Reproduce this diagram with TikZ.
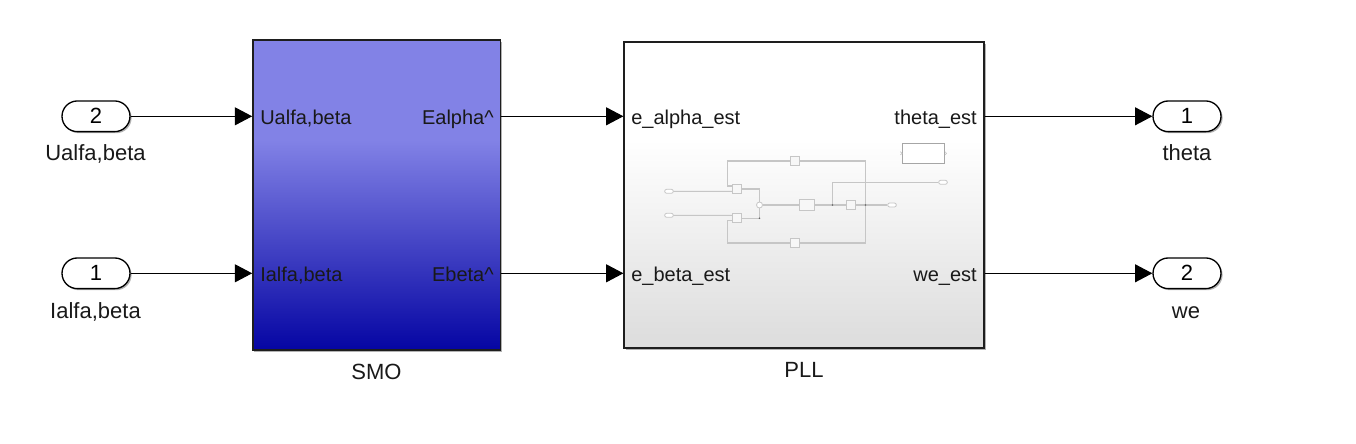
\documentclass[tikz,border=0pt]{standalone}
\usepackage{fontspec}
\setmainfont{Liberation Sans}
\usetikzlibrary{arrows.meta,shadows,shapes.misc}
\definecolor{plledge}{HTML}{1E1E1E}
\definecolor{mini}{HTML}{C6C6C6}
\definecolor{smotop}{HTML}{8282E6}
\definecolor{smobot}{HTML}{0505A3}
\definecolor{plltop}{HTML}{FFFFFF}
\definecolor{pllbot}{HTML}{DCDCDC}
\pgfdeclareverticalshading{smograd}{100bp}{
 color(0bp)=(smobot);
 color(25bp)=(smobot);
 color(58.9bp)=(smotop);
 color(75bp)=(smotop);
 color(100bp)=(smotop)}
\pgfdeclareverticalshading{pllgrad}{100bp}{
 color(0bp)=(pllbot);
 color(25bp)=(pllbot);
 color(59bp)=(plltop);
 color(75bp)=(plltop);
 color(100bp)=(plltop)}
\tikzset{
 x=0.75pt,y=-0.75pt,
 softshadow/.style={drop shadow={shadow xshift=1.2pt,shadow yshift=-1.2pt,fill=black,opacity=.3}},
 portnode/.style={draw=black,line width=1pt,fill=white,rounded rectangle,minimum width=51pt,minimum height=23pt,inner sep=0pt,font=\fontsize{16.5pt}{18pt}\selectfont,softshadow},
 biglabel/.style={inner sep=0pt,anchor=base,font=\fontsize{16.5pt}{18pt}\selectfont,text=black!90},
 portlabel/.style={inner sep=0pt,font=\fontsize{15pt}{18pt}\selectfont,text=black!90},
 sigline/.style={line width=0.8pt,-{Triangle[length=13pt,width=13.5pt]},black},
 smobox/.style={draw=plledge,line width=1pt,shading=smograd,minimum width=185.5pt,minimum height=232.5pt,inner sep=0pt,softshadow},
 pllbox/.style={draw=plledge,line width=0.9pt,shading=pllgrad,minimum width=270pt,minimum height=229.5pt,inner sep=0pt,softshadow},
 miniline/.style={draw=mini,line width=0.8pt},
 minibox/.style={draw=mini,line width=0.6pt,fill=white!97!black,inner sep=0pt},
 miniport/.style={draw=mini,line width=0.6pt,fill=white,rounded rectangle,minimum width=6.5pt,minimum height=3pt,inner sep=0pt},
 minidot/.style={circle,fill=black!60,inner sep=0pt,minimum size=1.3pt},
}
\begin{document}
\begin{tikzpicture}
\useasboundingbox (0,0) rectangle (1356,443);
\fill[white] (0,0) rectangle (1356,443);

% main blocks
\node[smobox] (smo) at (376.5,195) {};
\node[pllbox] (pll) at (804,195) {};

% ports
\node[portnode] (in2) at (96,116.3) {2};
\node[portnode] (in1) at (96,273.3) {1};
\node[portnode] (out1) at (1187,116.3) {1};
\node[portnode] (out2) at (1187,273.3) {2};

% labels
\node[biglabel] (lu) at (95.5,160.5) {Ualfa,beta};
\node[biglabel] (li) at (95.5,318.5) {Ialfa,beta};
\node[biglabel] (lt) at (1187,160) {theta};
\node[biglabel] (lw) at (1186,318) {we};
\node[biglabel] (lsmo) at (376.5,379) {SMO};
\node[biglabel] (lpll) at (804,377) {PLL};

% port coordinates on blocks
\coordinate (smoa) at (smo.west |- in2);
\coordinate (smob) at (smo.west |- in1);
\coordinate (smoc) at (smo.east |- in2);
\coordinate (smod) at (smo.east |- in1);
\coordinate (plla) at (pll.west |- in2);
\coordinate (pllb) at (pll.west |- in1);
\coordinate (pllc) at (pll.east |- in2);
\coordinate (plld) at (pll.east |- in1);

% mini diagram inside PLL
\node[minibox,fill=white,draw=black!35,minimum width=31.5pt,minimum height=15pt] (mscope) at (923.3,153.3) {};
\draw[mini,line width=0.5pt] ([xshift=-1.2pt,yshift=1.2pt]mscope.west) -- ([xshift=0.2pt]mscope.west) -- ([xshift=-1.2pt,yshift=-1.2pt]mscope.west);
\draw[mini,line width=0.5pt] ([xshift=0.2pt,yshift=1.2pt]mscope.east) -- ([xshift=1.4pt]mscope.east) -- ([xshift=0.2pt,yshift=-1.2pt]mscope.east);
\node[miniport] (mi1) at (669,191.3) {};
\node[miniport] (mi2) at (669,215.3) {};
\node[miniport] (mo1) at (943,182.3) {};
\node[miniport] (mo2) at (892,205) {};
\node[minibox,minimum size=7pt] (mtop) at (795,161) {};
\node[minibox,minimum size=7pt] (mbot) at (795,243) {};
\node[minibox,minimum size=7pt] (mp1) at (737,189) {};
\node[minibox,minimum size=7pt] (mp2) at (737,218) {};
\node[draw=mini,line width=0.6pt,fill=white,circle,inner sep=0pt,minimum size=4.5pt] (msum) at (759.5,205) {};
\node[minibox,minimum width=11.5pt,minimum height=8.5pt] (mpi) at (807,205) {};
\node[minibox,minimum size=7pt] (mint) at (851,205) {};
\coordinate (mj1) at (832.5,205);
\coordinate (mj2) at (865.5,205);
\coordinate (mj3) at (759.5,218.3);

\draw[miniline] (mi1) -- (mp1.west |- mi1);
\draw[miniline] (mi2) -- (mp2.west |- mi2);
\draw[miniline] (mp1.east) -| (msum.north);
\draw[miniline] (mp2.east |- mj3) -- (mj3) -- (msum.south);
\draw[miniline] (msum) -- (mpi);
\draw[miniline] (mpi) -- (mint);
\draw[miniline] (mint) -- (mo2);
\draw[miniline] (mj1) |- (mo1);
\draw[miniline] (mj2) |- (mtop.east);
\draw[miniline] (mj2) |- (mbot.east);
\draw[miniline] (mtop.west) -| (727.7,186) -- (mp1.west |- 0,186);
\draw[miniline] (mbot.west) -| (727.7,220.7) -- (mp2.west |- 0,220.7);
\node[minidot] at (mj1) {};
\node[minidot] at (mj2) {};
\node[minidot] at (mj3) {};

% block port labels
\node[portlabel,anchor=base west] (ta) at (260,124) {Ualfa,beta};
\node[portlabel,anchor=base west] (tb) at (260,281) {Ialfa,beta};
\node[portlabel,anchor=base east] (tc) at (494,124) {Ealpha\^{}};
\node[portlabel,anchor=base east] (td) at (494,281) {Ebeta\^{}};
\node[portlabel,anchor=base west] (te) at (631,124) {e\_alpha\_est};
\node[portlabel,anchor=base west] (tf) at (631,281) {e\_beta\_est};
\node[portlabel,anchor=base east] (tg) at (977,124) {theta\_est};
\node[portlabel,anchor=base east] (th) at (977,281) {we\_est};

% connectors
\draw[sigline] (in2.east) -- (smoa);
\draw[sigline] (in1.east) -- (smob);
\draw[sigline] (smoc) -- (plla);
\draw[sigline] (smod) -- (pllb);
\draw[sigline] (pllc) -- (out1.west);
\draw[sigline] (plld) -- (out2.west);
\end{tikzpicture}
\end{document}
